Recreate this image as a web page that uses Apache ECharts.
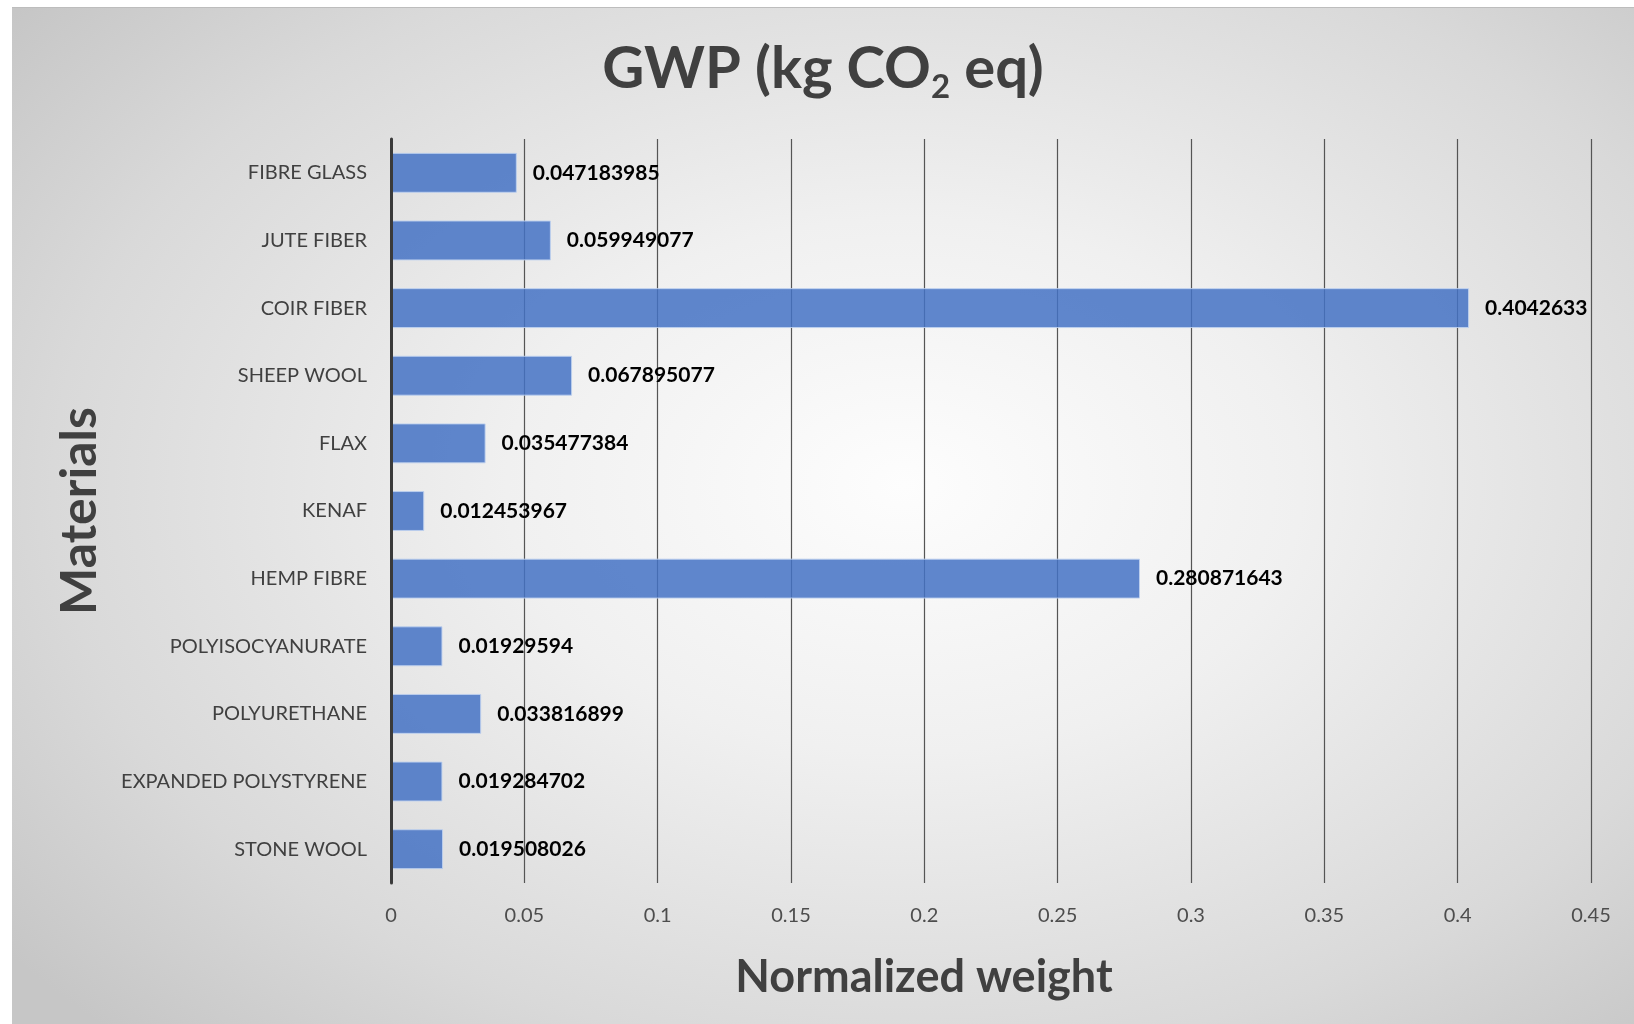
<!DOCTYPE html>
<html>
<head>
<meta charset="utf-8">
<title>GWP (kg CO2 eq)</title>
<script src="https://cdn.jsdelivr.net/npm/echarts@6/dist/echarts.min.js"></script>
<style>
  html, body { margin: 0; padding: 0; background: #fff; }
  #chart {
    position: absolute;
    left: 12px;
    top: 7px;
    width: 1622px;
    height: 1017px;
    border-top: 1px solid #bdbdbd;
    box-sizing: border-box;
    background: radial-gradient(ellipse 70% 75% at 55% 47%, #fdfdfd 0%, #f0f0f0 35%, #d9d9d9 75%, #c6c6c6 100%);
  }
</style>
</head>
<body>
<div id="chart"></div>
<script>
// categories, top to bottom as in the chart
const materials = [
  'FIBRE GLASS', 'JUTE FIBER', 'COIR FIBER', 'SHEEP WOOL', 'FLAX', 'KENAF',
  'HEMP FIBRE', 'POLYISOCYANURATE', 'POLYURETHANE', 'EXPANDED POLYSTYRENE', 'STONE WOOL'
];
const gwpWeight = [
  0.047183985, 0.059949077, 0.4042633, 0.067895077, 0.035477384, 0.012453967,
  0.280871643, 0.01929594, 0.033816899, 0.019284702, 0.019508026
];
// x axis ticks
const xTicks = [0, 0.05, 0.1, 0.15, 0.2, 0.25, 0.3, 0.35, 0.4, 0.45];

const FONT = 'Lato, Carlito, Calibri, "Noto Sans", sans-serif';

const chart = echarts.init(document.getElementById('chart'), null, { renderer: 'canvas' });

const option = {
  backgroundColor: 'transparent',
  textStyle: { fontFamily: FONT },
  title: {
    text: '{m|GWP (kg CO}{s|2}{m| eq)}',
    left: 'center',
    top: 21,
    textStyle: {
      rich: {
        m: { fontFamily: FONT, fontSize: 58, fontWeight: 'bold', color: '#404040', lineHeight: 70 },
        s: { fontFamily: FONT, fontSize: 33, fontWeight: 'bold', color: '#404040', lineHeight: 22, verticalAlign: 'bottom' }
      }
    }
  },
  grid: {
    left: 379,
    right: 43,
    top: 131,
    bottom: 141,
    containLabel: false
  },
  xAxis: {
    type: 'value',
    min: xTicks[0],
    max: xTicks[xTicks.length - 1],
    interval: xTicks[1] - xTicks[0],
    name: 'Normalized weight',
    nameLocation: 'middle',
    nameGap: 72,
    nameTextStyle: {
      fontFamily: FONT,
      fontSize: 45,
      fontWeight: 'bold',
      color: '#404040',
      padding: [0, 134, 0, 0]
    },
    axisLine: { show: false },
    axisTick: { show: false },
    axisLabel: {
      margin: 23,
      fontSize: 20,
      color: '#4d4d4d',
      fontFamily: FONT
    },
    splitLine: {
      show: true,
      lineStyle: { color: '#555555', width: 1.2 }
    }
  },
  yAxis: {
    type: 'category',
    data: materials,
    inverse: true,
    name: 'Materials',
    nameLocation: 'middle',
    nameGap: 286,
    nameRotate: 90,
    nameTextStyle: {
      fontFamily: FONT,
      fontSize: 50,
      fontWeight: 'bold',
      color: '#404040'
    },
    axisLine: { show: true, lineStyle: { color: '#3a3a3a', width: 3 } },
    axisTick: { show: false },
    axisLabel: {
      margin: 24,
      fontSize: 20,
      color: '#404040',
      fontFamily: FONT
    },
    z: 5
  },
  series: [{
    name: 'GWP',
    type: 'bar',
    data: gwpWeight,
    barCategoryGap: '41%',
    itemStyle: {
      color: 'rgba(68, 114, 196, 0.85)',
      borderColor: 'rgba(190, 208, 238, 0.9)',
      borderWidth: 1
    },
    label: {
      show: true,
      position: 'right',
      distance: 16,
      fontFamily: FONT,
      fontSize: 21,
      fontWeight: 'bold',
      color: '#000000'
    }
  }]
};

chart.setOption(option);
</script>
</body>
</html>
